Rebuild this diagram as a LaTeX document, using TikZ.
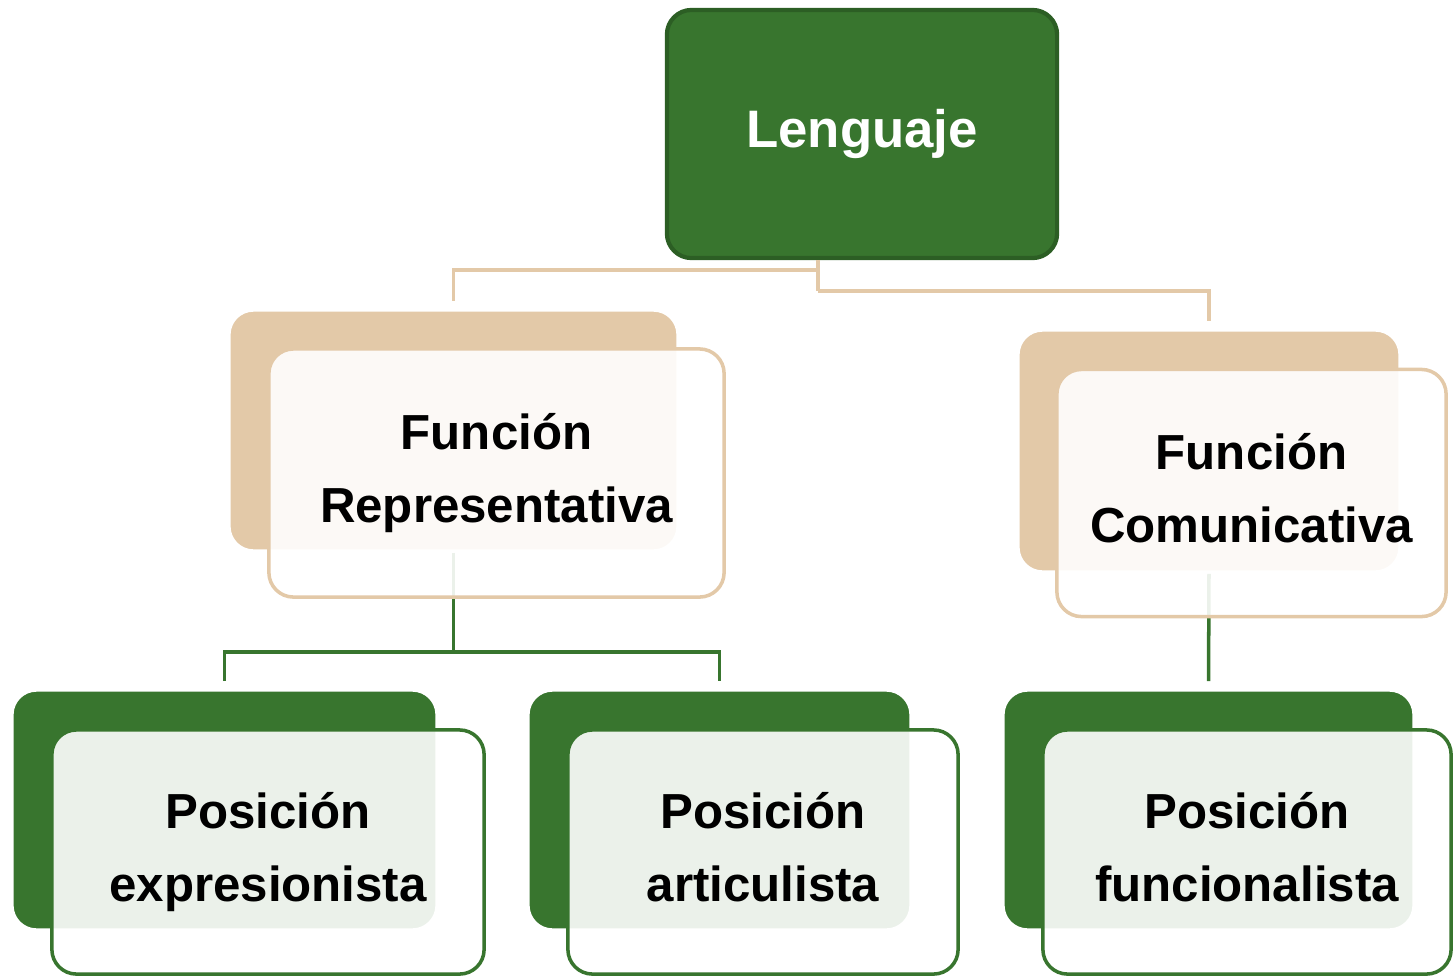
\documentclass[tikz,border=0pt]{standalone}
\usepackage{fontspec}
\setmainfont{Liberation Sans}
\usetikzlibrary{positioning}

\definecolor{leafgreen}{HTML}{38752E}
\definecolor{darkleaf}{HTML}{2C5E24}
\definecolor{sand}{HTML}{E3C9A8}

\tikzset{
  rootbox/.style={draw=darkleaf, line width=1.2pt, fill=leafgreen, rounded corners=7pt,
    text=white, font=\fontsize{15}{18}\selectfont\bfseries},
  backbox/.style={draw=white, line width=1pt, rounded corners=7pt, inner sep=0pt},
  frontbox/.style={line width=1pt, rounded corners=7pt, fill=white,
    fill opacity=0.9, text opacity=1, align=center,
    font=\fontsize{14}{20.5}\selectfont\bfseries,
    execute at end node={\vphantom{p}}},
  tanline/.style={draw=sand, line width=1pt},
  greenline/.style={draw=leafgreen, line width=1pt}
}

\begin{document}
\begin{tikzpicture}[x=0.01cm,y=-0.01cm]
  \useasboundingbox (0,0) rectangle (1454,975);

  % root
  \node[rootbox, minimum width=3.9cm, minimum height=2.48cm] (lang) at (862,134) {Lenguaje};

  % level 1 (back)
  \node[backbox, fill=sand, minimum width=4.49cm, minimum height=2.41cm] (repB) at (453.5,430.5) {};
  \node[backbox, fill=sand, minimum width=3.82cm, minimum height=2.42cm] (comB) at (1209,451) {};

  % level 2 (back)
  \node[backbox, fill=leafgreen, minimum width=4.25cm, minimum height=2.40cm] (expB) at (224.5,810) {};
  \node[backbox, fill=leafgreen, minimum width=3.83cm, minimum height=2.40cm] (artB) at (719.5,810) {};
  \node[backbox, fill=leafgreen, minimum width=4.11cm, minimum height=2.40cm] (funB) at (1208.5,810) {};

  % joints
  \coordinate (j1) at (818,270);
  \coordinate (j2) at (818,291);
  \coordinate (k1) at (453.5,652);

  % level 1
  \draw[tanline] (lang.south -| j1) -- (j2);
  \draw[tanline, shorten >=2pt] (j2) -| (comB.north);
  \draw[tanline, shorten >=2pt] (j1) -| (repB.north);

  % level 2
  \draw[greenline] (repB.south) -- (k1);
  \draw[greenline, shorten <=2pt, shorten >=2pt] (expB.north) |- (k1) -| (artB.north);
  \draw[greenline, shorten >=2pt] (comB.south) -- (funB.north);

  % level 1 (front)
  \node[frontbox, draw=sand, minimum width=4.55cm, minimum height=2.48cm] (repF) at (496.5,473) {Función\\Representativa};
  \node[frontbox, draw=sand, minimum width=3.89cm, minimum height=2.47cm] (comF) at (1251.5,493) {Función\\Comunicativa};

  % level 2 (front)
  \node[frontbox, draw=leafgreen, minimum width=4.32cm, minimum height=2.44cm] (expF) at (268,852) {Posición\\expresionista};
  \node[frontbox, draw=leafgreen, minimum width=3.90cm, minimum height=2.44cm] (artF) at (763,852) {Posición\\articulista};
  \node[frontbox, draw=leafgreen, minimum width=4.08cm, minimum height=2.44cm] (funF) at (1247,852) {Posición\\funcionalista};
\end{tikzpicture}
\end{document}
